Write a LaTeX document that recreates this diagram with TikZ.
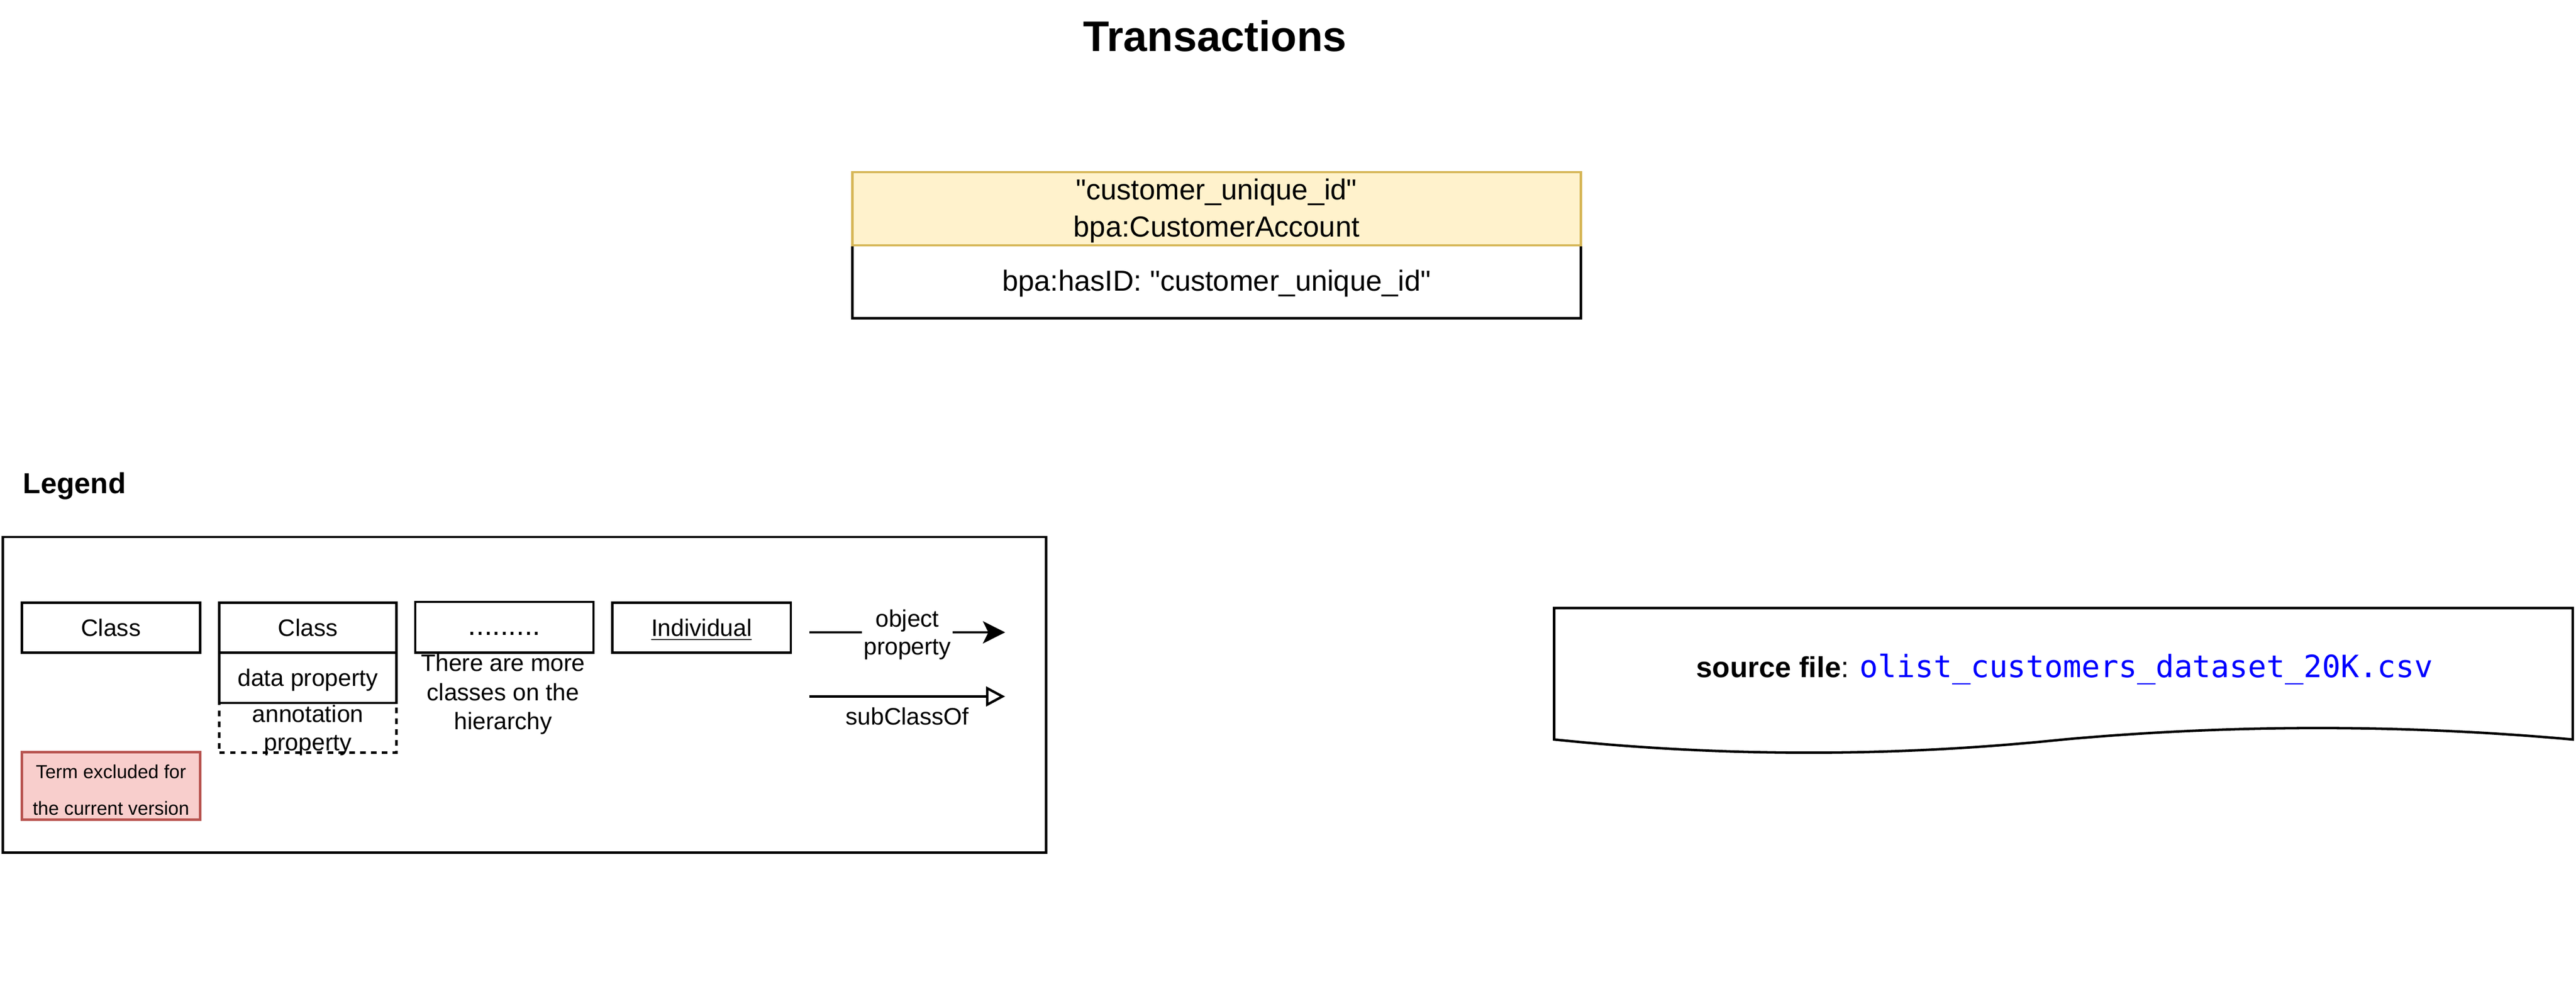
\documentclass[tikz,border=0pt]{standalone}
\usepackage{fontspec}
\setmainfont{Liberation Sans}
\newfontfamily\monofnt{DejaVu Sans Mono}
\usetikzlibrary{arrows.meta}
\definecolor{hdrfill}{HTML}{FFF2CC}
\definecolor{hdrdraw}{HTML}{D6B656}
\definecolor{exfill}{HTML}{F8CECC}
\definecolor{exdraw}{HTML}{B85450}
\definecolor{fileblue}{HTML}{0000FF}
\newcommand\mytopstrut[1]{\rule{0pt}{#1}}
\newcommand\mybotstrut[1]{\rule[-#1]{0pt}{#1}}
\newcommand\myul[1]{\setbox0=\hbox{#1}\rlap{\rule[-2.4pt]{\wd0}{0.9pt}}\box0}
\newcommand\dq{\textquotedbl}
\begin{document}
\begin{tikzpicture}[x=1pt,y=-1pt,line width=1.5pt,
  box/.style={draw, inner sep=0pt, anchor=north west},
  lt/.style={font=\fontsize{14.5}{17}\selectfont, text height=10.4pt, text depth=0pt},
  objarrow/.style={-{Stealth[length=13.5pt,width=13.5pt,inset=3.3pt]}},
  subarrow/.style={-{Triangle[open,length=11.6pt,width=12pt,fill=white]}}
]
\useasboundingbox (0,0) rectangle (1568,603);

% title
\node[anchor=base, inner sep=0pt, font=\bfseries\fontsize{26}{30}\selectfont] (title) at (739.5,31.3) {Transactions};

% class box
\node[box, minimum width=443.5pt, minimum height=44.4pt,
      font=\fontsize{17.6}{21}\selectfont, text height=11pt, text depth=0pt] (attr) at (518,148.5)
      {bpa:hasID: \dq customer\_unique\_id\dq};
\node[box, fill=hdrfill, draw=hdrdraw, minimum width=443.5pt, minimum height=44.5pt,
      align=center, font=\fontsize{17.6}{22.7}\selectfont] (hdr) at (518,104)
      {\mytopstrut{15.5pt}\dq customer\_unique\_id\dq\\bpa:CustomerAccount\mybotstrut{4pt}};

% legend
\node[anchor=base west, inner sep=0pt, font=\bfseries\fontsize{17.6}{21}\selectfont] (legtitle) at (13.3,300.3) {Legend};
\node[box, minimum width=635pt, minimum height=192pt] (legframe) at (1,326) {};

\node[box, lt, minimum width=108.4pt, minimum height=30.3pt] (cls1) at (12.6,366) {Class};

\node[box, dash pattern=on 3.3pt off 3.3pt, minimum width=107.9pt, minimum height=30.3pt,
      align=center, font=\fontsize{14.5}{17.3}\selectfont] (annot) at (132.7,427)
      {\mytopstrut{11.5pt}\smash{annotation}\\\smash{property}\mybotstrut{1pt}};
\node[box, lt, minimum width=107.9pt, minimum height=30.7pt] (dprop) at (132.7,396.3) {data property};
\node[box, lt, minimum width=107.9pt, minimum height=30.3pt] (cls2) at (132.7,366) {Class};

\node[box, minimum width=108.5pt, minimum height=31pt,
      font=\fontsize{17.6}{21}\selectfont, text height=9.4pt, text depth=0pt] (dots) at (252,365.5) {.........};
\node[inner sep=0pt, align=center, font=\fontsize{14.5}{17.7}\selectfont] (moretxt) at (306.2,422.55)
      {\mytopstrut{10.5pt}There are more\\classes on the\\hierarchy\mybotstrut{3pt}};

\node[box, lt, minimum width=108.6pt, minimum height=30.5pt] (indiv) at (372,366) {\myul{Individual}};

\node[box, fill=exfill, draw=exdraw, minimum width=108.4pt, minimum height=41pt,
      align=center, font=\fontsize{11.5}{22.3}\selectfont] (excl) at (12.6,457)
      {\mytopstrut{13.8pt}Term excluded for\\the current version\mybotstrut{0.5pt}};

% legend arrows
\coordinate (op1) at (492.8,384.8);
\coordinate (op2) at (611.8,384.8);
\draw[objarrow] (op1) -- (op2)
  node[midway, fill=white, inner xsep=1pt, inner ysep=0pt, align=center,
       font=\fontsize{14.5}{16.9}\selectfont] (oplabel)
  {\mytopstrut{14pt}object\\property\mybotstrut{3.5pt}};

\coordinate (sc1) at (492.8,423.8);
\coordinate (sc2) at (611.8,423.8);
\draw[subarrow] (sc1) -- (sc2)
  node[midway, anchor=base, yshift=-17.2pt, inner sep=0pt, font=\fontsize{14.5}{17}\selectfont] (sclabel) {subClassOf};

% source file document shape
\draw (946,370) -- (1566,370) -- (1566,450)
  .. controls (1462.7,440.7) and (1359.3,440.7) .. (1256,450)
  .. controls (1152.7,460.7) and (1049.3,460.7) .. (946,450) -- cycle;
\node[anchor=base, inner sep=0pt, font=\fontsize{17.6}{21}\selectfont] (srctxt) at (1256.8,412.3)
  {\textbf{source file}: {\monofnt\fontsize{18.7}{22}\selectfont\color{fileblue}olist\_customers\_dataset\_20K.csv}};
\end{tikzpicture}
\end{document}
